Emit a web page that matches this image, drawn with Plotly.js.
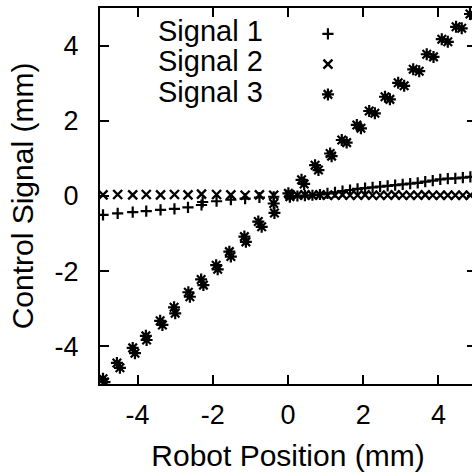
<!DOCTYPE html>
<html>
<head>
<meta charset="utf-8">
<script src="https://cdn.plot.ly/plotly-3.0.1.min.js"></script>
<style>
  html, body { margin: 0; padding: 0; overflow: hidden; background: #fff; }
  #chart { width: 476px; height: 472px; }
</style>
</head>
<body>
<div id="chart"></div>
<script>
// Series labels
const seriesNames = ['Signal 1', 'Signal 2', 'Signal 3'];

// Signal 1: coarse sampling for negative positions
const s1LeftX = [-4.92, -4.53, -4.13, -3.77, -3.39, -3.02, -2.66, -2.30, -2.27, -1.90, -1.52, -1.14, -0.76, -0.38];
const s1LeftY = [-0.50, -0.46, -0.43, -0.40, -0.37, -0.34, -0.30, -0.24, -0.16, -0.14, -0.10, -0.07, -0.04, -0.02];
// Signal 1: fine sampling for positive positions
const s1RightX = [0.05, 0.25, 0.45, 0.65, 0.85, 1.05, 1.25, 1.45, 1.65, 1.85, 2.05, 2.25, 2.45,
                  2.65, 2.85, 3.05, 3.25, 3.45, 3.65, 3.85, 4.05, 4.25, 4.45, 4.65, 4.85];
const s1RightY = [0.00, 0.00, 0.01, 0.02, 0.04, 0.07, 0.10, 0.13, 0.16, 0.19, 0.21, 0.23, 0.25,
                  0.27, 0.29, 0.31, 0.33, 0.35, 0.38, 0.41, 0.44, 0.46, 0.47, 0.49, 0.51];

// Signal 2
const s2LeftX = [-4.92, -4.53, -4.13, -3.77, -3.39, -3.02, -2.66, -2.30, -1.90, -1.52, -1.14, -0.76, -0.38];
const s2LeftY = [0.03, 0.04, 0.03, 0.04, 0.03, 0.04, 0.03, 0.05, 0.04, 0.03, 0.02, 0.03, 0.02];
const s2RightX = [0.05, 0.25, 0.45, 0.65, 0.85, 1.05, 1.25, 1.45, 1.65, 1.85, 2.05, 2.25, 2.45,
                  2.65, 2.85, 3.05, 3.25, 3.45, 3.65, 3.85, 4.05, 4.25, 4.45, 4.65, 4.85];
const s2RightY = [0.03, 0.02, 0.03, 0.02, 0.03, 0.02, 0.02, 0.03, 0.02, 0.02, 0.03, 0.02, 0.02,
                  0.02, 0.03, 0.02, 0.02, 0.02, 0.03, 0.02, 0.02, 0.02, 0.02, 0.02, 0.02];

// Signal 3: paired samples along the diagonal
const s3X = [-4.92, -4.88, -4.55, -4.47, -4.13, -4.07, -3.78, -3.76, -3.40, -3.34, -3.03, -3.00,
             -2.65, -2.61, -2.31, -2.25, -1.91, -1.87, -1.56, -1.52, -1.16, -1.12, -0.79, -0.70,
             -0.38, -0.36, 0.01, 0.05, 0.36, 0.43, 0.72, 0.81, 1.12, 1.16, 1.43, 1.56,
             1.83, 1.94, 2.16, 2.31, 2.58, 2.71, 2.93, 3.09, 3.33, 3.49, 3.69, 3.87,
             4.09, 4.25, 4.47, 4.62, 4.84, 4.95];
const s3Y = [-4.86, -4.95, -4.44, -4.57, -4.04, -4.18, -3.72, -3.83, -3.32, -3.43, -2.96, -3.12,
             -2.56, -2.68, -2.22, -2.37, -1.84, -1.95, -1.48, -1.61, -1.08, -1.22, -0.68, -0.82,
             -0.20, -0.45, 0.07, -0.02, 0.43, 0.32, 0.82, 0.69, 1.13, 1.06, 1.49, 1.42,
             1.89, 1.80, 2.26, 2.20, 2.64, 2.57, 3.01, 2.93, 3.37, 3.32, 3.77, 3.70,
             4.17, 4.10, 4.50, 4.46, 4.84, 4.80];

const tickVals = [-4, -2, 0, 2, 4];
const tickText = ['-4', '-2', '0', '2', '4'];

const FONT = 'Liberation Sans, Arial, Helvetica, sans-serif';

const plusMarker  = {symbol: 'cross-thin-open', size: 8, color: '#000', line: {width: 2.2, color: '#000'}};
const crossMarker = {symbol: 'x-thin-open', size: 9, color: '#000', line: {width: 2.4, color: '#000'}};
const starMarker  = {symbol: 'asterisk-open', size: 10, color: '#000', line: {width: 2.2, color: '#000'}};

const traces = [
  {x: s1LeftX, y: s1LeftY, mode: 'markers', marker: plusMarker, name: ' ', legendgroup: 's1', showlegend: true},
  {x: s1RightX, y: s1RightY, mode: 'markers', marker: plusMarker, name: ' ', legendgroup: 's1', showlegend: false},
  {x: s2LeftX, y: s2LeftY, mode: 'markers', marker: crossMarker, name: ' ', legendgroup: 's2', showlegend: true},
  {x: s2RightX, y: s2RightY, mode: 'markers', marker: crossMarker, name: ' ', legendgroup: 's2', showlegend: false},
  {x: s3X, y: s3Y, mode: 'markers', marker: starMarker, name: ' ', legendgroup: 's3', showlegend: true}
];

// Key labels sit to the left of their symbols, right-justified
const keyY = [0.939, 0.859, 0.777];
const annotations = seriesNames.map((name, i) => ({
  text: name, xref: 'paper', yref: 'paper', x: 0.438, y: keyY[i],
  xanchor: 'right', yanchor: 'middle', showarrow: false,
  font: {family: FONT, size: 29, color: '#000'}
}));

const axisCommon = {
  showline: true, linecolor: '#000', linewidth: 2, mirror: 'ticks',
  ticks: 'inside', ticklen: 9, tickwidth: 2, tickcolor: '#000',
  showgrid: false, zeroline: false,
  tickmode: 'array', tickvals: tickVals, ticktext: tickText,
  tickfont: {family: FONT, size: 27, color: '#000'}
};

const layout = {
  width: 476, height: 472,
  margin: {l: 100, r: 0, t: 8, b: 88, pad: 0},
  paper_bgcolor: '#fff', plot_bgcolor: '#fff',
  font: {family: FONT, color: '#000'},
  xaxis: Object.assign({}, axisCommon, {
    range: [-5, 5], ticklabelstandoff: 6,
    title: {text: 'Robot Position (mm)', font: {family: FONT, size: 30, color: '#000'}, standoff: 16}
  }),
  yaxis: Object.assign({}, axisCommon, {
    range: [-5, 5], ticklabelstandoff: 14,
    title: {text: 'Control Signal (mm)', font: {family: FONT, size: 30, color: '#000'}, standoff: 12}
  }),
  showlegend: true,
  legend: {
    x: 0.553, y: 0.985, xanchor: 'left', yanchor: 'top',
    bgcolor: 'rgba(0,0,0,0)', borderwidth: 0,
    font: {family: FONT, size: 21, color: '#000'},
    tracegroupgap: 0, itemwidth: 30
  },
  annotations: annotations
};

Plotly.newPlot('chart', traces, layout, {displayModeBar: false, staticPlot: true});
</script>
</body>
</html>
